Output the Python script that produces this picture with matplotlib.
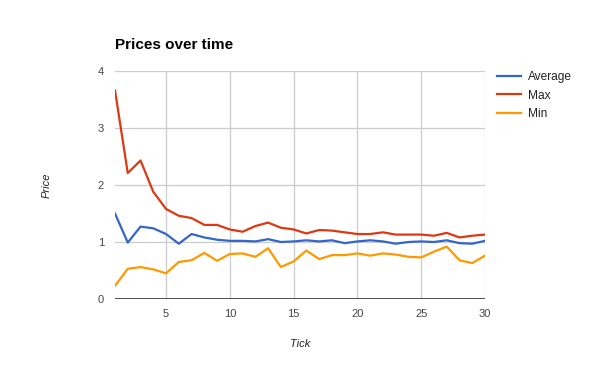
import matplotlib
matplotlib.use("Agg")
import matplotlib.pyplot as plt

plt.rcParams['font.family'] = ['Liberation Sans', 'DejaVu Sans']

ticks = list(range(1, 31))
average = [1.50, 0.99, 1.27, 1.24, 1.14, 0.97, 1.14, 1.08, 1.04, 1.02,
           1.02, 1.01, 1.05, 1.00, 1.01, 1.03, 1.01, 1.03, 0.98, 1.01,
           1.03, 1.01, 0.97, 1.00, 1.01, 1.00, 1.03, 0.98, 0.97, 1.02]
maxv = [3.66, 2.21, 2.43, 1.88, 1.58, 1.46, 1.42, 1.30, 1.30, 1.22,
        1.18, 1.28, 1.34, 1.25, 1.22, 1.15, 1.21, 1.20, 1.17, 1.14,
        1.14, 1.17, 1.13, 1.13, 1.13, 1.11, 1.16, 1.08, 1.11, 1.13]
minv = [0.23, 0.53, 0.56, 0.52, 0.45, 0.65, 0.68, 0.81, 0.67, 0.79,
        0.80, 0.74, 0.89, 0.56, 0.66, 0.85, 0.70, 0.77, 0.77, 0.80,
        0.76, 0.80, 0.78, 0.74, 0.73, 0.83, 0.92, 0.68, 0.63, 0.76]
series_names = ['Average', 'Max', 'Min']
colors = ['#3366CC', '#DC3912', '#FF9900']
xticks = [5, 10, 15, 20, 25, 30]
yticks = [0, 1, 2, 3, 4]

fig = plt.figure(figsize=(6, 3.71), dpi=100)
ax = fig.add_axes([115/600, 1 - 299/371, 370/600, 228/371])

for name, vals, c in zip(series_names, [average, maxv, minv], colors):
    ax.plot(ticks, vals, color=c, lw=1.6, label=name, solid_joinstyle='round')

ax.set_xlim(1, 30)
ax.set_ylim(0, 4)
ax.set_xticks(xticks)
ax.set_yticks(yticks)
ax.grid(True, color='#cccccc', lw=0.9)
ax.set_axisbelow(True)
for s in ax.spines.values():
    s.set_visible(False)
ax.axhline(0, color='#333333', lw=1.2, zorder=1)
ax.tick_params(length=0, labelsize=8, colors='#444444', pad=8)
ax.tick_params(axis='x', pad=7)

fig.text(115/600, 1 - 45/371, 'Prices over time', fontsize=11, fontweight='bold',
         ha='left', va='center', color='#000000')
fig.text(47/600, 1 - 185/371, 'Price', fontsize=8, style='italic', rotation=90,
         ha='center', va='center', color='#222222')
fig.text(300/600, 1 - 344/371, 'Tick', fontsize=8, style='italic',
         ha='center', va='center', color='#222222')

leg = fig.legend(loc='upper left', bbox_to_anchor=(497/600, 1 - 71/371),
                 frameon=False, fontsize=8.6, handlelength=2.0, handletextpad=0.6,
                 labelspacing=0.55, borderaxespad=0, borderpad=0)
for t in leg.get_texts():
    t.set_color('#222222')

fig.savefig('out.png', dpi=100)
